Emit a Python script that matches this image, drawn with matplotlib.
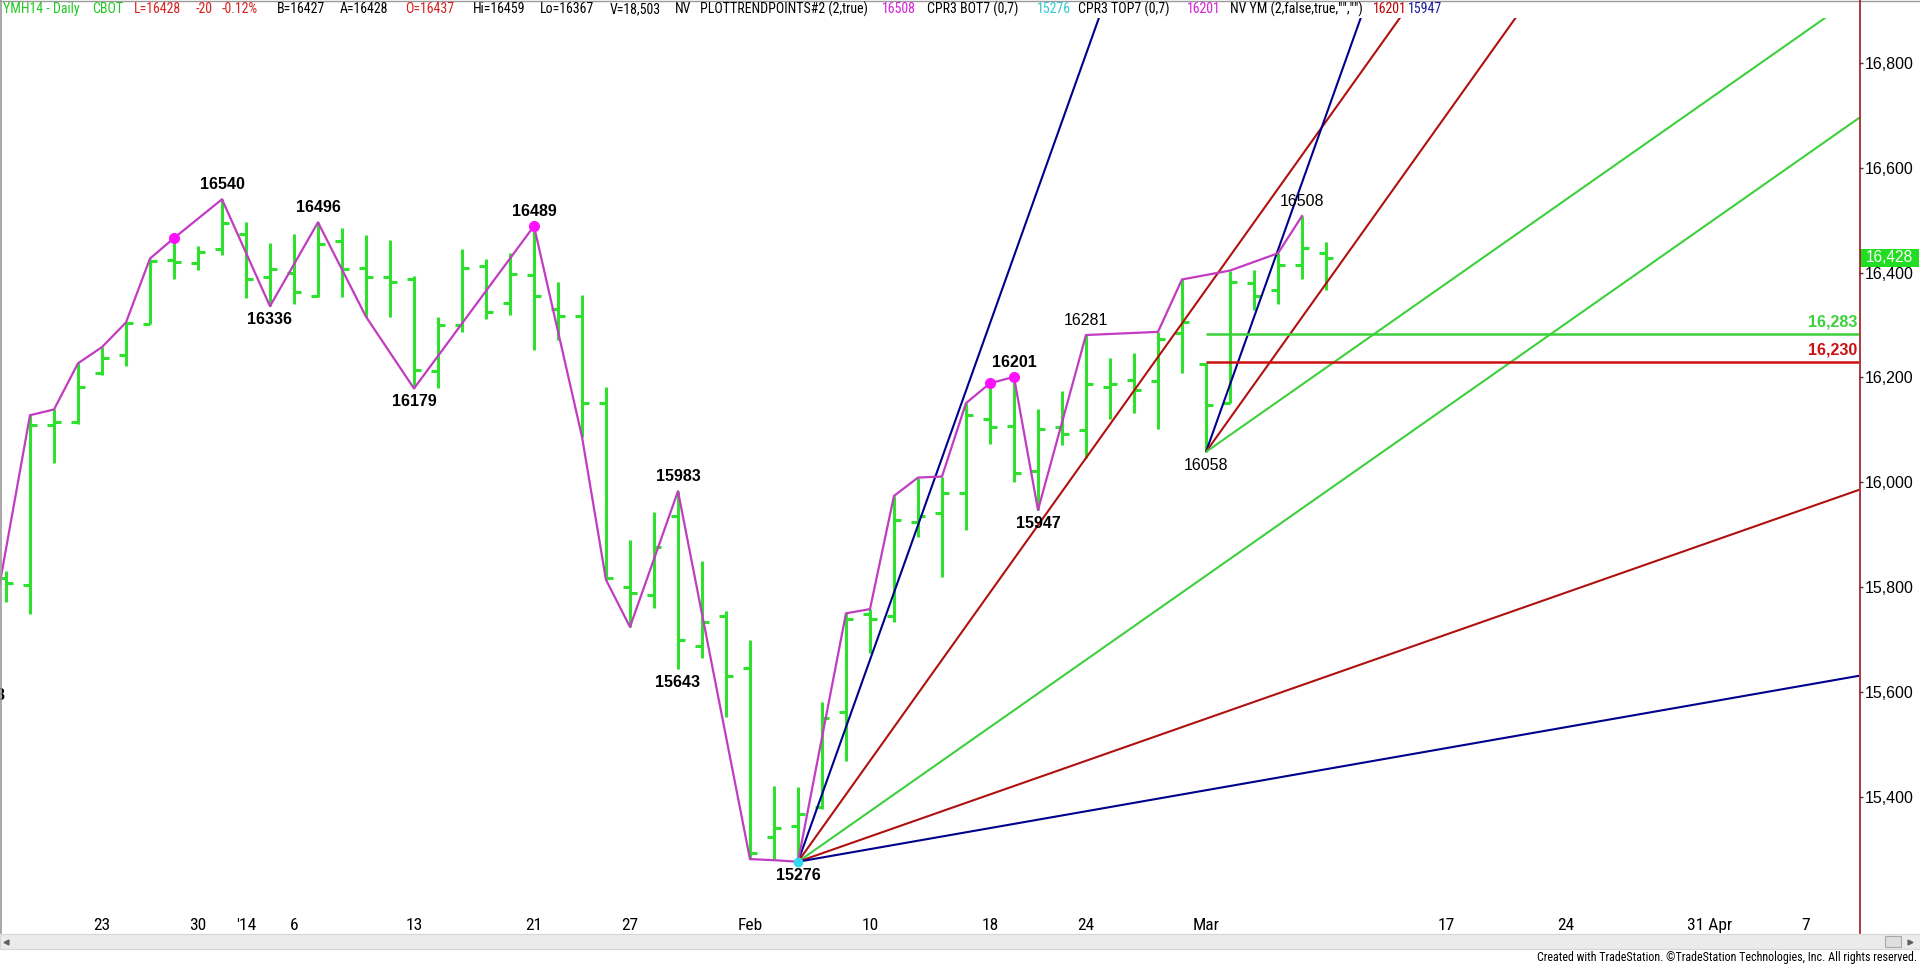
import numpy as np
import pandas as pd
import matplotlib
matplotlib.use("Agg")
import matplotlib.pyplot as plt
from matplotlib import font_manager
from matplotlib.patches import Rectangle
from matplotlib.lines import Line2D
import matplotlib.transforms as mtransforms

# ---------------- data ----------------
holidays = ["2013-12-25", "2014-01-01", "2014-01-20", "2014-02-17"]
bar_dates = pd.bdate_range("2013-12-16", "2014-03-10", freq="C", holidays=holidays)

opens = [15700, 15818, 15804, 16109, 16116, 16208, 16243, 16302, 16425, 16418,
         16445, 16474, 16391, 16399, 16356, 16461, 16409, 16392, 16387, 16212,
         16300, 16413, 16343, 16396, 16330, 16318, 16151, 15801, 15784, 15936,
         15688, 15744, 15646, 15324, 15344, 15380, 15562, 15748, 15744, 15925,
         15942, 15980, 16120, 16107, 16022, 16106, 16100, 16181, 16196, 16193,
         16284, 16225, 16152, 16380, 16367, 16415, 16437]
highs = [15790, 15830, 16128, 16139, 16227, 16258, 16305, 16427, 16466, 16451,
         16540, 16497, 16456, 16474, 16496, 16485, 16472, 16462, 16394, 16316,
         16446, 16427, 16437, 16489, 16383, 16357, 16182, 15889, 15944, 15983,
         15850, 15755, 15700, 15420, 15418, 15581, 15750, 15758, 15974, 16009,
         16011, 16151, 16189, 16201, 16139, 16175, 16281, 16237, 16246, 16287,
         16387, 16227, 16404, 16406, 16437, 16508, 16459]
lows = [15618, 15772, 15748, 16036, 16111, 16205, 16221, 16302, 16387, 16405,
        16434, 16351, 16336, 16340, 16354, 16354, 16316, 16316, 16179, 16180,
        16287, 16311, 16320, 16252, 16271, 16087, 15814, 15724, 15760, 15643,
        15664, 15553, 15281, 15279, 15276, 15376, 15469, 15674, 15734, 15896,
        15820, 15909, 16074, 16001, 15947, 16071, 16046, 16120, 16132, 16101,
        16208, 16058, 16152, 16329, 16341, 16387, 16367]
closes = [15760, 15808, 16109, 16116, 16181, 16238, 16303, 16422, 16420, 16440,
          16495, 16387, 16407, 16364, 16455, 16407, 16391, 16382, 16214, 16300,
          16409, 16324, 16397, 16356, 16318, 16151, 15817, 15788, 15876, 15699,
          15734, 15630, 15293, 15340, 15368, 15550, 15740, 15740, 15929, 15935,
          15979, 16128, 16106, 16017, 16101, 16093, 16187, 16187, 16177, 16273,
          16306, 16147, 16382, 16356, 16415, 16448, 16428]

# swing line (PLOTTRENDPOINTS)
pivot_dates = ["2013-12-16", "2013-12-18", "2013-12-19", "2013-12-20", "2013-12-23",
               "2013-12-24", "2013-12-26", "2013-12-27", "2013-12-31", "2014-01-03",
               "2014-01-07", "2014-01-09", "2014-01-13", "2014-01-21", "2014-01-23",
               "2014-01-24", "2014-01-27", "2014-01-29", "2014-02-03", "2014-02-04",
               "2014-02-05", "2014-02-07", "2014-02-10", "2014-02-11", "2014-02-12",
               "2014-02-13", "2014-02-14", "2014-02-18", "2014-02-19", "2014-02-20",
               "2014-02-24", "2014-02-27", "2014-02-28", "2014-03-04", "2014-03-06",
               "2014-03-07"]
pivot_sides = "LHHHHHHHHLHLLHLLLHLLLHHHHHHHHLHHHHHH"

# labelled swing points
label_dates = ["2013-12-16", "2013-12-31", "2014-01-03", "2014-01-07", "2014-01-13",
               "2014-01-21", "2014-01-29", "2014-01-29", "2014-02-05", "2014-02-19",
               "2014-02-20", "2014-02-24", "2014-03-03", "2014-03-07"]
label_sides = "LHLHLHHLLHLHLH"
label_bold = [1, 1, 1, 1, 1, 1, 1, 1, 1, 1, 1, 0, 0, 0]

bot_dot_dates = ["2013-12-27", "2014-01-21", "2014-02-18", "2014-02-19"]  # CPR3 BOT7
top_dot_dates = ["2014-02-05"]                                            # CPR3 TOP7

# Gann fans
fan_dates = ["2014-02-05", "2014-03-03"]
fan_ratios = [[2, 1, 0.5, 0.25, 0.125], [2, 1, 0.5]]
gann_unit = 64.2  # points per bar for the 1x1

level_prices = [16283, 16230]
level_start = "2014-03-03"

xtick_dates = ["2013-12-23", "2013-12-30", "2014-01-02", "2014-01-06", "2014-01-13",
               "2014-01-21", "2014-01-27", "2014-02-03", "2014-02-10", "2014-02-18",
               "2014-02-24", "2014-03-03", "2014-03-17", "2014-03-24", "2014-04-01",
               "2014-04-07"]
xtick_labels = ["23", "30", "'14", "6", "13", "21", "27", "Feb", "10", "18", "24",
                "Mar", "17", "24", "31 Apr", "7"]
ytick_values = [15400, 15600, 15800, 16000, 16200, 16400, 16600, 16800]
last_price = 16428

header = [("YMH14 - Daily", "g"), ("CBOT", "g"), ("L=16428", "r"), ("-20", "r"),
          ("-0.12%", "r"), ("B=16427", "k"), ("A=16428", "k"), ("O=16437", "r"),
          ("Hi=16459", "k"), ("Lo=16367", "k"), ("V=18,503", "k"), ("NV", "k"),
          ("PLOTTRENDPOINTS#2 (2,true)", "k"), ("16508", "m"), ("CPR3 BOT7 (0,7)", "k"),
          ("15276", "c"), ("CPR3 TOP7 (0,7)", "k"), ("16201", "m"),
          ('NV YM (2,false,true,"","")', "k"), ("16201", "dr"), ("15947", "b")]
header_x = [3, 92, 134, 196, 222, 277, 340, 405, 473, 540, 610, 675, 700, 882, 927,
            1037, 1078, 1187, 1230, 1373, 1408]
credit = "Created with TradeStation. \u00a9TradeStation Technologies, Inc. All rights reserved."

# ---------------- style ----------------
W, H = 1920, 964
BAR_GREEN = "#2fe02f"
ZIG = "#c23cc2"
G_BLUE, G_RED, G_GREEN = "#00008c", "#b01010", "#3cd03c"
AXIS_RED = "#a01818"
ratio_color = {2: G_BLUE, 1: G_RED, 0.5: G_GREEN, 0.25: G_RED, 0.125: G_BLUE}
head_col = {"g": "#22c822", "r": "#d82020", "k": "black", "m": "#d820d8",
            "c": "#30c8d0", "dr": "#c00000", "b": "#1818a0"}

names = {f.name for f in font_manager.fontManager.ttflist}
NARROW = "Liberation Sans"
for cand in ["Liberation Sans Narrow", "Arial Narrow", "Roboto Condensed",
             "Open Sans Condensed", "DejaVu Sans Condensed"]:
    if cand in names:
        NARROW = cand
        break
plt.rcParams["font.family"] = ["Liberation Sans", "DejaVu Sans"]

trade_days = pd.bdate_range("2013-12-16", "2014-05-30", freq="C", holidays=holidays)
pos = {d.strftime("%Y-%m-%d"): i for i, d in enumerate(trade_days)}

fig = plt.figure(figsize=(W / 100, H / 100), dpi=100)
fig.patch.set_facecolor("white")
renderer = fig.canvas.get_renderer()


def fit_size(text, width_px, family, size=10.0):
    # font size that makes text span width_px
    t = fig.text(0, 0, text, family=family, fontsize=size)
    w = t.get_window_extent(renderer).width
    t.remove()
    return size * width_px / w


head_size = min(fit_size("PLOTTRENDPOINTS#2 (2,true)", 168, NARROW), 10.5)
credit_size = min(fit_size(credit, 378, NARROW), 9.0)
date_size = min(fit_size("Feb", 26, NARROW), 12.5)

ax_top, ax_bot = 18, 912
ax = fig.add_axes([0, 1 - ax_bot / H, 1859 / W, (ax_bot - ax_top) / H])
ax.set_xlim(0.75, 78.21)
ax.set_ylim(15180.1, 16885.9)
for s in ax.spines.values():
    s.set_visible(False)

x = np.arange(len(bar_dates))
lw_bar = 2.2
ax.vlines(x, lows, highs, color=BAR_GREEN, lw=lw_bar, zorder=2, capstyle="butt")
ax.hlines(opens, x - 0.28, x, color=BAR_GREEN, lw=lw_bar, zorder=2, capstyle="butt")
ax.hlines(closes, x, x + 0.28, color=BAR_GREEN, lw=lw_bar, zorder=2, capstyle="butt")

# Gann fans
for d, ratios in zip(fan_dates, fan_ratios):
    i0 = pos[d]
    p0 = lows[i0]
    for r in ratios:
        x_end = 120
        ax.plot([i0, x_end], [p0, p0 + r * gann_unit * (x_end - i0)],
                color=ratio_color[r], lw=1.5, zorder=3, solid_capstyle="butt")

# horizontal levels
lvl_cols = [G_GREEN, "#cc1010"]
for p, c in zip(level_prices, lvl_cols):
    ax.hlines(p, pos[level_start], 90, color=c, lw=1.8, zorder=3)
    ax.annotate(f"{p:,}", xy=(1, p), xycoords=("axes fraction", "data"),
                xytext=(-2, 4), textcoords="offset pixels", ha="right", va="bottom",
                color=c, fontsize=11.6, fontweight="bold", zorder=6)

# swing line
zx = [pos[d] for d in pivot_dates]
zy = [highs[pos[d]] if s == "H" else lows[pos[d]] for d, s in zip(pivot_dates, pivot_sides)]
ax.plot(zx, zy, color=ZIG, lw=1.6, zorder=4)

ax.plot([pos[d] for d in bot_dot_dates], [highs[pos[d]] for d in bot_dot_dates], "o",
        color="#ff10ff", ms=7, zorder=5)
ax.plot([pos[d] for d in top_dot_dates], [lows[pos[d]] for d in top_dot_dates], "o",
        color="#30d8f0", ms=6, zorder=5)

# swing labels
for d, s, b in zip(label_dates, label_sides, label_bold):
    i = pos[d]
    if s == "H":
        p, off, va = highs[i], 7, "bottom"
    else:
        p, off, va = lows[i], -6, "top"
    ax.annotate(str(p), xy=(i, p), xytext=(0, off), textcoords="offset pixels",
                ha="center", va=va, fontsize=11.5,
                fontweight="bold" if b else "normal", color="black",
                annotation_clip=False, clip_on=True, zorder=6)

# axes ticks
ax.yaxis.tick_right()
ax.set_yticks(ytick_values)
ax.set_yticklabels([f"{v:,}" for v in ytick_values])
ax.tick_params(axis="y", right=True, left=False, length=3, width=1, color="#404040",
               labelsize=11.5, pad=1.5)
ax.set_xticks([pos[d] for d in xtick_dates])
ax.set_xticklabels(xtick_labels, family=NARROW, fontsize=date_size)
ax.tick_params(axis="x", length=0, pad=4)

# last price tag
tr = mtransforms.blended_transform_factory(ax.transAxes, ax.transData)
ax.add_patch(Rectangle((1.0005, last_price - 16.5), 59 / 1859, 33, transform=tr,
                       facecolor="#22dd22", edgecolor="none", clip_on=False, zorder=7))
ax.text(1 + 30 / 1859, last_price, f"{last_price:,}", transform=tr, ha="center",
        va="center", color="white", fontsize=11.2, zorder=8, clip_on=False)

# frame, axis line, scroll bar
ft = fig.transFigure
fig.add_artist(Line2D([0, 1], [1 - 0.5 / H] * 2, color="#9a9a9a", lw=1, transform=ft))
fig.add_artist(Line2D([0.6 / W] * 2, [1, 1 - 933 / H], color="#9a9a9a", lw=1.2, transform=ft))
fig.add_artist(Line2D([1859.5 / W] * 2, [1, 1 - 933 / H], color=AXIS_RED, lw=1.2, transform=ft))
fig.add_artist(Rectangle((0, 1 - 949 / H), 1, 15 / H, transform=ft, facecolor="#ebebeb",
                         edgecolor="#d6d6d6", lw=0.8))
fig.add_artist(Rectangle((1885 / W, 1 - 947 / H), 16 / W, 11 / H, transform=ft,
                         facecolor="#dedede", edgecolor="#a8a8a8", lw=0.8))
fig.add_artist(Line2D([6 / W], [1 - 941.5 / H], marker="<", ms=3.5, color="#606060",
                      transform=ft))
fig.add_artist(Line2D([1910 / W], [1 - 941.5 / H], marker=">", ms=3.5, color="#606060",
                      transform=ft))

# header line
for (txt, key), hx in zip(header, header_x):
    fig.text(hx / W, 1 - 9 / H, txt, color=head_col[key], family=NARROW,
             fontsize=head_size, ha="left", va="center")
fig.text(1917 / W, 1 - 957 / H, credit, family=NARROW, fontsize=credit_size,
         ha="right", va="center", color="black")

fig.savefig("out.png", dpi=100)
